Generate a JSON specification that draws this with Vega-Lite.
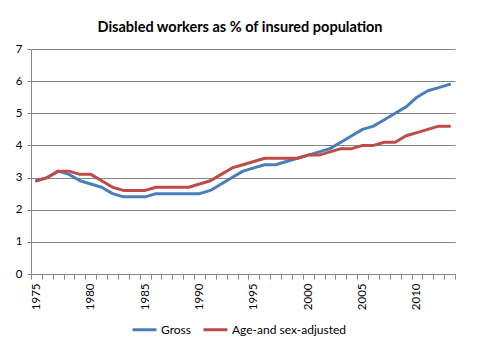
{
  "$schema": "https://vega.github.io/schema/vega-lite/v6.json",
  "width": 424,
  "height": 225,
  "autosize": {"type": "none"},
  "padding": {"left": 31, "top": 49, "right": 25, "bottom": 82},
  "background": "white",
  "title": {
    "text": "Disabled workers as % of insured population",
    "font": "Lato",
    "fontSize": 14.5,
    "fontWeight": "bold",
    "color": "#000000",
    "anchor": "middle",
    "offset": 8,
    "dx": -3
  },
  "config": {
    "view": {"stroke": null},
    "axis": {
      "labelFont": "Lato",
      "labelFontSize": 11.5,
      "labelColor": "#000000",
      "domainColor": "#868686",
      "tickColor": "#868686",
      "gridColor": "#868686",
      "title": null
    },
    "axisY": {
      "grid": true,
      "tickSize": 4,
      "labelPadding": 5,
      "values": [0, 1, 2, 3, 4, 5, 6, 7],
      "format": "d"
    },
    "axisX": {"grid": false}
  },
  "data": {
    "values": [
      {"year": 1975, "series": "Gross", "value": 2.9},
      {"year": 1976, "series": "Gross", "value": 3.0},
      {"year": 1977, "series": "Gross", "value": 3.2},
      {"year": 1978, "series": "Gross", "value": 3.1},
      {"year": 1979, "series": "Gross", "value": 2.9},
      {"year": 1980, "series": "Gross", "value": 2.8},
      {"year": 1981, "series": "Gross", "value": 2.7},
      {"year": 1982, "series": "Gross", "value": 2.5},
      {"year": 1983, "series": "Gross", "value": 2.4},
      {"year": 1984, "series": "Gross", "value": 2.4},
      {"year": 1985, "series": "Gross", "value": 2.4},
      {"year": 1986, "series": "Gross", "value": 2.5},
      {"year": 1987, "series": "Gross", "value": 2.5},
      {"year": 1988, "series": "Gross", "value": 2.5},
      {"year": 1989, "series": "Gross", "value": 2.5},
      {"year": 1990, "series": "Gross", "value": 2.5},
      {"year": 1991, "series": "Gross", "value": 2.6},
      {"year": 1992, "series": "Gross", "value": 2.8},
      {"year": 1993, "series": "Gross", "value": 3.0},
      {"year": 1994, "series": "Gross", "value": 3.2},
      {"year": 1995, "series": "Gross", "value": 3.3},
      {"year": 1996, "series": "Gross", "value": 3.4},
      {"year": 1997, "series": "Gross", "value": 3.4},
      {"year": 1998, "series": "Gross", "value": 3.5},
      {"year": 1999, "series": "Gross", "value": 3.6},
      {"year": 2000, "series": "Gross", "value": 3.7},
      {"year": 2001, "series": "Gross", "value": 3.8},
      {"year": 2002, "series": "Gross", "value": 3.9},
      {"year": 2003, "series": "Gross", "value": 4.1},
      {"year": 2004, "series": "Gross", "value": 4.3},
      {"year": 2005, "series": "Gross", "value": 4.5},
      {"year": 2006, "series": "Gross", "value": 4.6},
      {"year": 2007, "series": "Gross", "value": 4.8},
      {"year": 2008, "series": "Gross", "value": 5.0},
      {"year": 2009, "series": "Gross", "value": 5.2},
      {"year": 2010, "series": "Gross", "value": 5.5},
      {"year": 2011, "series": "Gross", "value": 5.7},
      {"year": 2012, "series": "Gross", "value": 5.8},
      {"year": 2013, "series": "Gross", "value": 5.9},
      {"year": 1975, "series": "Age-and sex-adjusted", "value": 2.9},
      {"year": 1976, "series": "Age-and sex-adjusted", "value": 3.0},
      {"year": 1977, "series": "Age-and sex-adjusted", "value": 3.2},
      {"year": 1978, "series": "Age-and sex-adjusted", "value": 3.2},
      {"year": 1979, "series": "Age-and sex-adjusted", "value": 3.1},
      {"year": 1980, "series": "Age-and sex-adjusted", "value": 3.1},
      {"year": 1981, "series": "Age-and sex-adjusted", "value": 2.9},
      {"year": 1982, "series": "Age-and sex-adjusted", "value": 2.7},
      {"year": 1983, "series": "Age-and sex-adjusted", "value": 2.6},
      {"year": 1984, "series": "Age-and sex-adjusted", "value": 2.6},
      {"year": 1985, "series": "Age-and sex-adjusted", "value": 2.6},
      {"year": 1986, "series": "Age-and sex-adjusted", "value": 2.7},
      {"year": 1987, "series": "Age-and sex-adjusted", "value": 2.7},
      {"year": 1988, "series": "Age-and sex-adjusted", "value": 2.7},
      {"year": 1989, "series": "Age-and sex-adjusted", "value": 2.7},
      {"year": 1990, "series": "Age-and sex-adjusted", "value": 2.8},
      {"year": 1991, "series": "Age-and sex-adjusted", "value": 2.9},
      {"year": 1992, "series": "Age-and sex-adjusted", "value": 3.1},
      {"year": 1993, "series": "Age-and sex-adjusted", "value": 3.3},
      {"year": 1994, "series": "Age-and sex-adjusted", "value": 3.4},
      {"year": 1995, "series": "Age-and sex-adjusted", "value": 3.5},
      {"year": 1996, "series": "Age-and sex-adjusted", "value": 3.6},
      {"year": 1997, "series": "Age-and sex-adjusted", "value": 3.6},
      {"year": 1998, "series": "Age-and sex-adjusted", "value": 3.6},
      {"year": 1999, "series": "Age-and sex-adjusted", "value": 3.6},
      {"year": 2000, "series": "Age-and sex-adjusted", "value": 3.7},
      {"year": 2001, "series": "Age-and sex-adjusted", "value": 3.7},
      {"year": 2002, "series": "Age-and sex-adjusted", "value": 3.8},
      {"year": 2003, "series": "Age-and sex-adjusted", "value": 3.9},
      {"year": 2004, "series": "Age-and sex-adjusted", "value": 3.9},
      {"year": 2005, "series": "Age-and sex-adjusted", "value": 4.0},
      {"year": 2006, "series": "Age-and sex-adjusted", "value": 4.0},
      {"year": 2007, "series": "Age-and sex-adjusted", "value": 4.1},
      {"year": 2008, "series": "Age-and sex-adjusted", "value": 4.1},
      {"year": 2009, "series": "Age-and sex-adjusted", "value": 4.3},
      {"year": 2010, "series": "Age-and sex-adjusted", "value": 4.4},
      {"year": 2011, "series": "Age-and sex-adjusted", "value": 4.5},
      {"year": 2012, "series": "Age-and sex-adjusted", "value": 4.6},
      {"year": 2013, "series": "Age-and sex-adjusted", "value": 4.6}
    ]
  },
  "layer": [
    {
      "mark": {"type": "point", "opacity": 0},
      "encoding": {
        "x": {
          "field": "year",
          "type": "quantitative",
          "scale": {"domain": [1974.5, 2013.5], "nice": false, "zero": false},
          "axis": {
            "orient": "bottom",
            "values": [1974.5, 1975.5, 1976.5, 1977.5, 1978.5, 1979.5, 1980.5, 1981.5, 1982.5, 1983.5, 1984.5, 1985.5, 1986.5, 1987.5, 1988.5, 1989.5, 1990.5, 1991.5, 1992.5, 1993.5, 1994.5, 1995.5, 1996.5, 1997.5, 1998.5, 1999.5, 2000.5, 2001.5, 2002.5, 2003.5, 2004.5, 2005.5, 2006.5, 2007.5, 2008.5, 2009.5, 2010.5, 2011.5, 2012.5, 2013.5],
            "labels": false,
            "tickSize": 5,
            "domain": true
          }
        },
        "y": {
          "field": "value",
          "type": "quantitative",
          "scale": {"domain": [0, 7], "nice": false}
        }
      }
    },
    {
      "mark": {"type": "line", "strokeWidth": 3, "strokeCap": "round", "strokeJoin": "round"},
      "encoding": {
        "x": {
          "field": "year",
          "type": "quantitative",
          "axis": {
            "orient": "bottom",
            "values": [1975, 1980, 1985, 1990, 1995, 2000, 2005, 2010],
            "format": "d",
            "ticks": false,
            "domain": false,
            "labelAngle": -90,
            "labelAlign": "right",
            "labelBaseline": "middle",
            "labelPadding": 9,
            "labelFlush": false,
            "labelOverlap": false
          }
        },
        "y": {"field": "value", "type": "quantitative"},
        "color": {
          "field": "series",
          "type": "nominal",
          "scale": {"domain": ["Gross", "Age-and sex-adjusted"], "range": ["#4A7EBB", "#BE4B48"]},
          "legend": {
            "title": null,
            "orient": "none",
            "direction": "horizontal",
            "legendX": 100,
            "legendY": 267,
            "symbolType": "stroke",
            "symbolStrokeWidth": 3,
            "symbolSize": 576,
            "labelFont": "Lato",
            "labelFontSize": 12,
            "labelColor": "#000000",
            "columnPadding": 6,
            "labelOffset": 3
          }
        }
      }
    }
  ],
  "resolve": {"axis": {"x": "independent"}}
}
